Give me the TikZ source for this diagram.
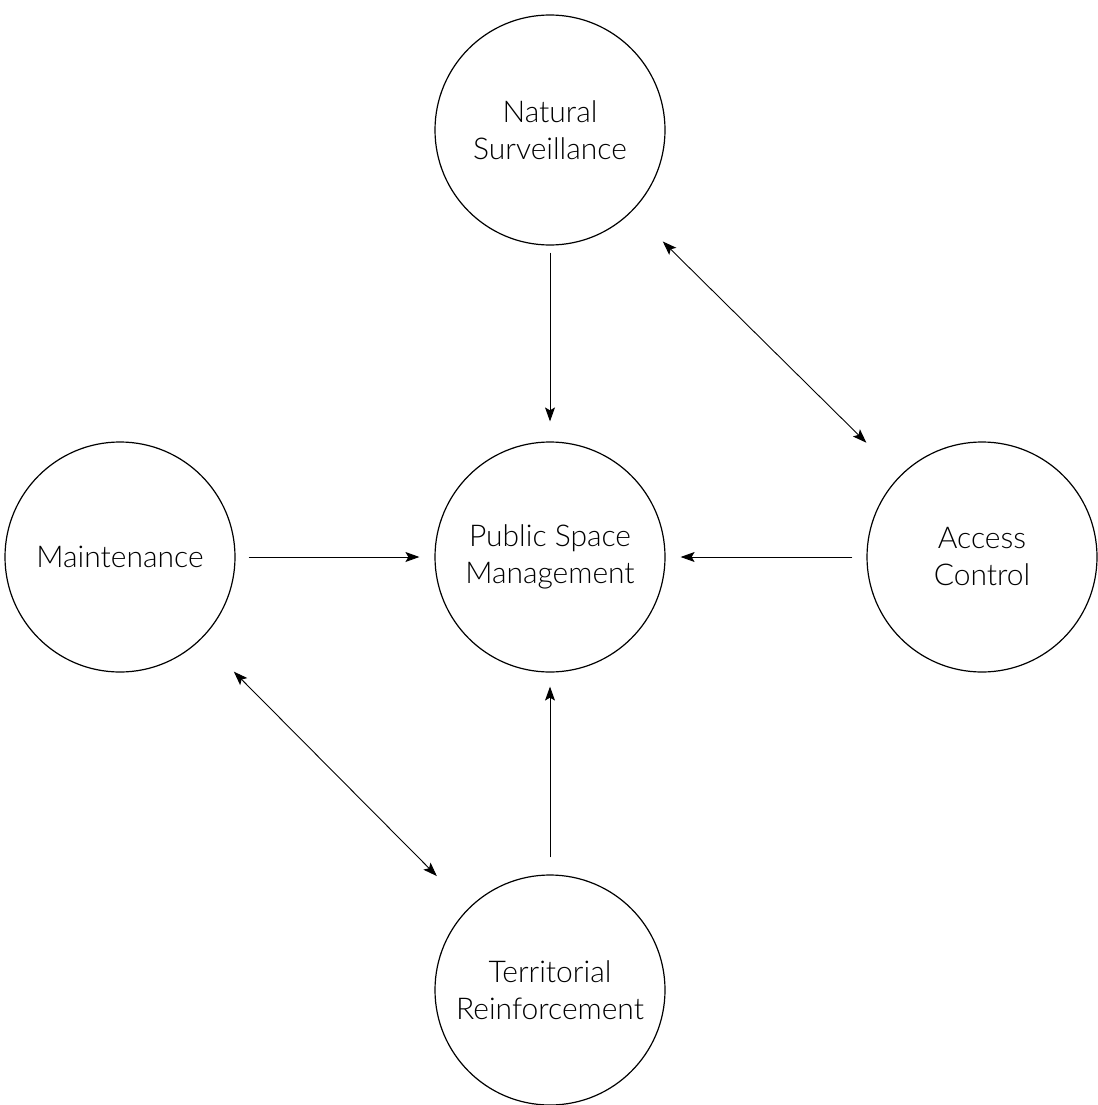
\documentclass[tikz,border=0pt]{standalone}
\usepackage{fontspec}
\setmainfont{Lato}[UprightFont=* Light]
\usetikzlibrary{arrows.meta}
\begin{document}
\begin{tikzpicture}[x=1pt,y=-1pt,
  topic/.style={circle,draw,line width=1.2pt,minimum size=230pt,inner sep=0pt,
    align=center,font=\fontsize{30}{37}\selectfont},
  link/.style={line width=0.9pt,-{Stealth[length=14pt,width=10pt,inset=3pt]}},
  twolink/.style={line width=0.9pt,{Stealth[length=14pt,width=10pt,inset=3pt]}-{Stealth[length=14pt,width=10pt,inset=3pt]}}]
\useasboundingbox[fill=white] (0,0) rectangle (1097,1105);
\node[topic] (ns) at (550,130) {Natural\\Surveillance};
\node[topic] (psm) at (550,557) {Public Space\\Management};
\node[topic] (mt) at (120,557) {Maintenance};
\node[topic] (ac) at (982,557) {Access\\Control};
\node[topic] (tr) at (550,990) {Territorial\\Reinforcement};
\draw[link,shorten <=7pt,shorten >=20pt] (ns.south) -- (psm.north);
\draw[link,shorten <=13pt,shorten >=15pt] (mt.east) -- (psm.west);
\draw[link,shorten <=14pt,shorten >=15pt] (ac.west) -- (psm.east);
\draw[link,shorten <=17pt,shorten >=14pt] (tr.north) -- (psm.south);
\draw[twolink,shorten <=43pt,shorten >=47pt] (ns) -- (ac);
\draw[twolink,shorten <=46pt,shorten >=45pt] (mt) -- (tr);
\end{tikzpicture}
\end{document}
